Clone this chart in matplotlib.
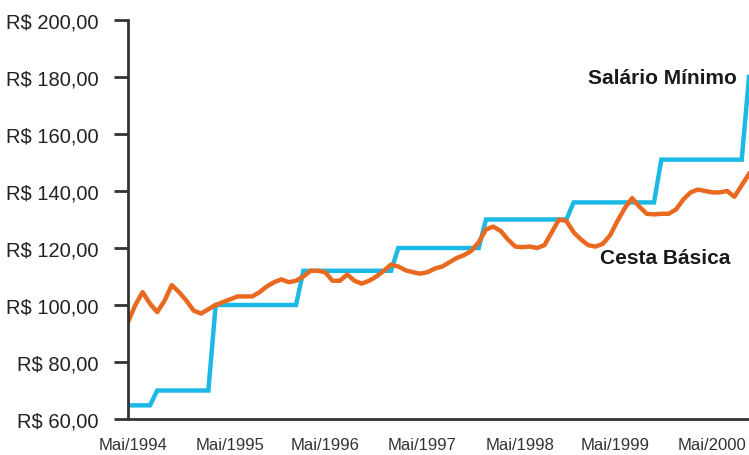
import matplotlib
matplotlib.use("Agg")
import matplotlib.pyplot as plt

plt.rcParams['font.family'] = ['Liberation Sans', 'DejaVu Sans']

# month index, 0 = Mai/1994
months = list(range(86))

salario_minimo = [64.79] * 4 + [70.0] * 8 + [100.0] * 12 + [112.0] * 13 + \
                 [120.0] * 12 + [130.0] * 12 + [136.0] * 12 + [151.0] * 12 + [180.0]

cesta_basica = [
    94.0, 100.0, 104.5, 100.5, 97.5, 101.5, 107.0, 104.5, 101.5, 98.0,
    97.0, 98.5, 100.0, 101.0, 102.0, 103.0, 103.0, 103.0, 104.5, 106.5,
    108.0, 109.0, 108.0, 108.5, 110.0, 112.0, 112.0, 111.5, 108.5, 108.5,
    110.7, 108.5, 107.5, 108.5, 110.0, 112.0, 114.2, 113.5, 112.2, 111.5,
    111.0, 111.5, 112.8, 113.5, 115.0, 116.5, 117.5, 119.0, 122.0, 126.5,
    127.5, 126.0, 123.0, 120.5, 120.3, 120.5, 120.0, 121.0, 125.5, 130.0,
    129.5, 125.5, 123.0, 121.0, 120.5, 121.5, 124.5, 129.5, 134.0, 137.5,
    134.5, 132.0, 131.8, 132.0, 132.0, 133.5, 137.0, 139.5, 140.5, 140.0,
    139.5, 139.5, 140.0, 138.0, 142.0, 146.0,
]

x_labels = ['Mai/1994', 'Mai/1995', 'Mai/1996', 'Mai/1997', 'Mai/1998', 'Mai/1999', 'Mai/2000']
x_label_pos = [0.75, 13.96, 27.0, 40.3, 53.7, 66.7, 79.9]
y_ticks = [60, 80, 100, 120, 140, 160, 180, 200]

fig = plt.figure(figsize=(7.49, 4.56), dpi=100)
ax = fig.add_axes([128 / 749, 1 - 420 / 456, 621 / 749, 399 / 456])

ax.plot(months, salario_minimo, color='#1cb9e6', linewidth=3.2, solid_joinstyle='miter')
ax.plot(months, cesta_basica, color='#e8691f', linewidth=3.2)

ax.set_xlim(0, 85)
ax.set_ylim(60, 200)

ax.set_yticks(y_ticks)
ax.set_yticklabels([f'R$ {v},00' for v in y_ticks], fontsize=14.5, color='#222222')
ax.set_xticks(x_label_pos)
ax.set_xticklabels(x_labels, fontsize=12, color='#333333')

ax.tick_params(axis='y', length=10, width=2, color='#333333', pad=11)
ax.tick_params(axis='x', length=0, pad=13)

for side in ['top', 'right']:
    ax.spines[side].set_visible(False)
for side in ['left', 'bottom']:
    ax.spines[side].set_linewidth(2)
    ax.spines[side].set_color('#333333')

ax.text(83.4, 179.7, 'Salário Mínimo', ha='right', va='center',
        fontsize=15, fontweight='bold', color='#1a1a1a')
ax.text(82.4, 116.7, 'Cesta Básica', ha='right', va='center',
        fontsize=15, fontweight='bold', color='#1a1a1a')

fig.savefig('out.png', dpi=100)
